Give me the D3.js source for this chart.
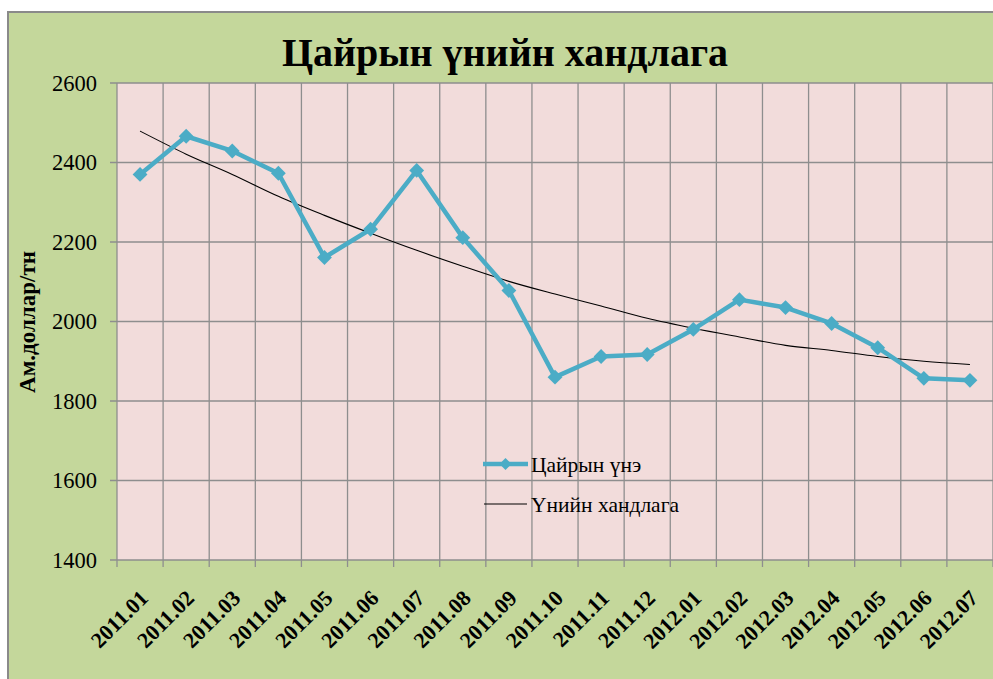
<!DOCTYPE html>
<html><head><meta charset="utf-8">
<script src="https://cdn.jsdelivr.net/npm/d3@7"></script>
<style>
html,body{margin:0;padding:0;background:#fff;overflow:hidden;}
svg{display:block;}
svg text{font-family:"Liberation Serif","Times New Roman",serif;}
</style></head>
<body>
<svg id="chart" width="993" height="679"></svg>
<script>
const title = "Цайрын үнийн хандлага";
const yAxisTitle = "Ам.доллар/тн";
const categories = ["2011.01","2011.02","2011.03","2011.04","2011.05","2011.06","2011.07","2011.08","2011.09","2011.10","2011.11","2011.12","2012.01","2012.02","2012.03","2012.04","2012.05","2012.06","2012.07"];
const priceName = "Цайрын үнэ";
const priceValues = [2370,2466,2429,2373,2161,2232,2380,2211,2078,1860,1912,1917,1980,2055,2035,1995,1934,1857,1852];
const trendName = "Үнийн хандлага";
const trendValues = [2479,2421,2370,2315,2267,2222,2179,2139,2101,2069,2039,2008,1983,1961,1940,1927,1912,1900,1892];
const yTicks = [1400,1600,1800,2000,2200,2400,2600];

const FONT = "Liberation Serif, Times New Roman, serif";
const svg = d3.select("#chart");
const plot = {left:117, right:993, top:83, bottom:560};
const gridColor = "#8e8e8e";
const lineColor = "#4bacc6";

// panel
svg.append("rect").attr("x",8).attr("y",12).attr("width",1000).attr("height",700)
  .attr("fill","#c4d79b").attr("stroke","#8a8a8a").attr("stroke-width",2);

// title
svg.append("text").attr("x",505).attr("y",66).attr("text-anchor","middle").attr("font-family",FONT)
  .attr("font-size",40).attr("font-weight","bold").attr("fill","#000").text(title);

const x = d3.scaleBand().domain(categories).range([plot.left, plot.right]);
const y = d3.scaleLinear().domain([1400,2600]).range([plot.bottom, plot.top]);

// plot area
svg.append("rect").attr("x",plot.left).attr("y",plot.top)
  .attr("width",plot.right-plot.left).attr("height",plot.bottom-plot.top).attr("fill","#f2dcdb");

// horizontal grid + left ticks
svg.append("g").selectAll("line").data(yTicks).join("line")
  .attr("x1",plot.left-7).attr("x2",plot.right)
  .attr("y1",d=>y(d)).attr("y2",d=>y(d))
  .attr("stroke",gridColor).attr("stroke-width",1.3);

// vertical grid at band boundaries + bottom ticks
const bounds = categories.map(c=>x(c)).concat([x(categories[categories.length-1])+x.bandwidth()]);
svg.append("g").selectAll("line").data(bounds).join("line")
  .attr("x1",d=>d).attr("x2",d=>d)
  .attr("y1",plot.top).attr("y2",plot.bottom+7)
  .attr("stroke",gridColor).attr("stroke-width",1.3);

// y tick labels
svg.append("g").selectAll("text").data(yTicks).join("text")
  .attr("x",97).attr("y",d=>y(d)).attr("dy","0.35em").attr("text-anchor","end").attr("font-family",FONT)
  .attr("font-size",22.5).attr("fill","#000").text(d=>d);

// y axis title
svg.append("text").attr("transform","translate(35,322) rotate(-90)").attr("font-family",FONT)
  .attr("text-anchor","middle").attr("font-size",23).attr("font-weight","bold")
  .attr("fill","#000").text(yAxisTitle);

// x tick labels
const cx = c => x(c) + x.bandwidth()/2;
svg.append("g").selectAll("text").data(categories).join("text")
  .attr("transform",c=>`translate(${cx(c)+4},${594}) rotate(-45)`)
  .attr("text-anchor","end").attr("dy","0.35em").attr("font-family",FONT)
  .attr("font-size",22).attr("font-weight","bold").attr("fill","#000").text(c=>c);

// trend line
const trendLine = d3.line().x((d,i)=>cx(categories[i])).y(d=>y(d)).curve(d3.curveMonotoneX);
svg.append("path").attr("d",trendLine(trendValues)).attr("fill","none")
  .attr("stroke","#000").attr("stroke-width",1.1);

// price line
const priceLine = d3.line().x((d,i)=>cx(categories[i])).y(d=>y(d));
svg.append("path").attr("d",priceLine(priceValues)).attr("fill","none")
  .attr("stroke",lineColor).attr("stroke-width",4.5).attr("stroke-linejoin","round");

const diamond = d3.symbol().type(d3.symbolDiamond2).size(140);
svg.append("g").selectAll("path").data(priceValues).join("path")
  .attr("transform",(d,i)=>`translate(${cx(categories[i])},${y(d)})`)
  .attr("d",diamond).attr("fill",lineColor);

// legend
const lg = svg.append("g");
lg.append("line").attr("x1",483).attr("x2",528).attr("y1",464).attr("y2",464)
  .attr("stroke",lineColor).attr("stroke-width",4.5);
lg.append("path").attr("transform","translate(505.5,464)").attr("d",d3.symbol().type(d3.symbolDiamond2).size(90)).attr("fill",lineColor);
lg.append("text").attr("x",531).attr("y",464).attr("dy","0.35em").attr("font-family",FONT).attr("font-size",21.5).attr("fill","#000").text(priceName);
lg.append("line").attr("x1",484).attr("x2",527).attr("y1",504).attr("y2",504)
  .attr("stroke","#000").attr("stroke-width",1.1);
lg.append("text").attr("x",531).attr("y",504).attr("dy","0.35em").attr("font-family",FONT).attr("font-size",21.5).attr("fill","#000").text(trendName);
</script>
</body></html>
